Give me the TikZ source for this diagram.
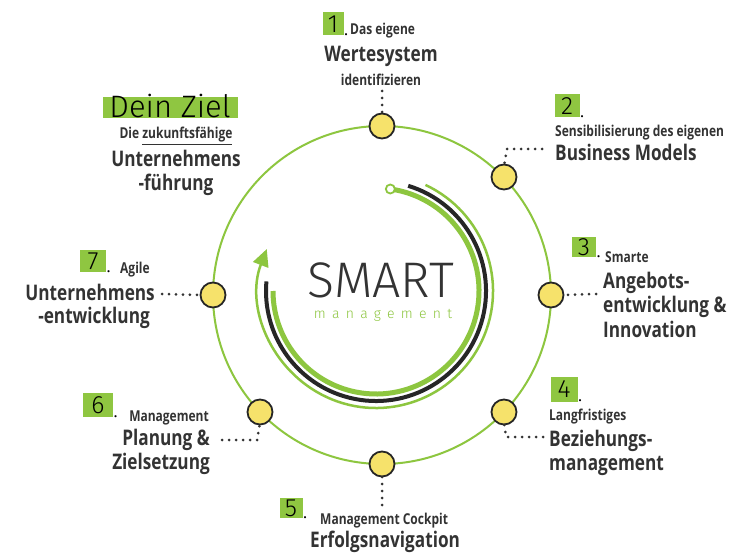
\documentclass[tikz,border=0pt]{standalone}
\usepackage{fontspec}
\setmainfont{Open Sans}[FakeStretch=0.8]
\newfontfamily\smartfont{Fira Sans Light}
\newfontfamily\mgmtfont{Fira Sans Light}[LetterSpace=45]
\newfontfamily\handfont{Fira Sans Light}
\usetikzlibrary{arrows.meta}
\definecolor{lgreen}{HTML}{8DC63F}
\definecolor{boxgreen}{HTML}{8FC641}
\definecolor{dotyellow}{HTML}{F6E26B}
\definecolor{txt}{HTML}{333333}
\begin{document}
\begin{tikzpicture}[x=1pt,y=-1pt,
  stepnode/.style={circle, draw=black!85, line width=1.8pt, fill=dotyellow, minimum size=25pt, inner sep=0pt},
  dotline/.style={line width=3pt, line cap=round, dash pattern=on 0pt off 7pt, draw=txt},
  small/.style={font=\fontsize{15}{17}\selectfont\bfseries, text=txt, inner sep=0pt},
  big/.style={font=\fontsize{21.5}{25}\selectfont\bfseries, text=txt, inner sep=0pt},
  numbox/.style={fill=boxgreen, inner sep=0pt, font=\handfont\fontsize{25}{25}\selectfont, text=black},
  numdot/.style={font=\handfont\fontsize{22}{22}\selectfont, text=black, inner sep=0pt, anchor=base west}]
\useasboundingbox[fill=white] (0,0) rectangle (738,553);

% main circle
\draw[lgreen, line width=2pt] (382,295) circle[radius=169];

% inner arcs
\coordinate (ac) at (376,291);
\draw[lgreen, line width=5pt] ([shift={(-82:103)}]ac) arc[start angle=-82, end angle=180, radius=103];
\draw[black!85, line width=4pt] ([shift={(-73:110)}]ac) arc[start angle=-73, end angle=185, radius=110];
\draw[lgreen, line width=2.5pt, -{Triangle[length=17pt,width=16pt]}] ([shift={(-65:117)}]ac) arc[start angle=-65, end angle=201, radius=117];
\node[circle, draw=lgreen, fill=white, line width=1.8pt, minimum size=9pt, inner sep=0pt] (start) at ([shift={(-82:103)}]ac) {};

% center text
\node[font=\smartfont\fontsize{50}{50}\selectfont, text=txt, inner sep=0pt, text depth=0pt, anchor=base] (smart) at (381,297) {SMART};
\node[font=\mgmtfont\fontsize{14}{14}\selectfont, text=lgreen, inner sep=0pt, text height=7pt, anchor=base] (mgmt) at (383,318) {management};

% step nodes
\node[stepnode] (n1) at (382,126) {};
\node[stepnode] (n2) at (504,177) {};
\node[stepnode] (n3) at (551,295) {};
\node[stepnode] (n4) at (504,412) {};
\node[stepnode] (n5) at (382,464) {};
\node[stepnode] (n6) at (260,412) {};
\node[stepnode] (n7) at (213,295) {};

% label 1
\node[numbox, minimum width=21pt, minimum height=23pt] (b1) at (333,24) {1};
\node[numdot] (p1) at (b1.south east) {.};
\node[small, anchor=base west] (t1a) at (350,35) {Das eigene};
\node[big, anchor=base] (t1b) at (381,62) {Wertesystem};
\node[small, anchor=base] (t1c) at (381,86) {identifizieren};
\coordinate (d1) at (382,91);
\draw[dotline] (d1) -- ([yshift=-3pt]n1.north);

% label 2
\node[numbox, minimum width=25pt, minimum height=23pt] (b2) at (567,106) {2};
\node[numdot] (p2) at (b2.south east) {.};
\node[small, anchor=base west] (t2a) at (555,137) {Sensibilisierung des eigenen};
\node[big, anchor=base west] (t2b) at (555,161) {Business Models};
\coordinate (d2) at (542,149);
\draw[dotline] (d2) -- (507,149) -- ([yshift=-3pt]n2.north);

% label 3
\node[numbox, minimum width=24pt, minimum height=20pt] (b3) at (584,247) {3};
\node[numdot] (p3) at (b3.south east) {.};
\node[small, anchor=base west] (t3a) at (605,262) {Smarte};
\node[big, anchor=base west] (t3b) at (603,288) {Angebots-};
\node[big, anchor=base west] (t3c) at (603,312) {entwicklung \&};
\node[big, anchor=base west] (t3d) at (603,337) {Innovation};
\coordinate (d3) at (596,294);
\draw[dotline] (d3) -- (n3.east);

% label 4
\node[numbox, minimum width=27pt, minimum height=25pt] (b4) at (564,389) {4};
\node[numdot] (p4) at (b4.south east) {.};
\node[small, anchor=base west] (t4a) at (549,420) {Langfristiges};
\node[big, anchor=base west] (t4b) at (549,446) {Beziehungs-};
\node[big, anchor=base west] (t4c) at (549,470) {management};
\coordinate (d4) at (543,437);
\draw[dotline] (d4) -- (506,437) -- ([yshift=3pt]n4.south);

% label 5
\node[numbox, minimum width=23pt, minimum height=20pt] (b5) at (291,508) {5};
\node[numdot] (p5) at (b5.south east) {.};
\node[small, anchor=base west] (t5a) at (320,524) {Management Cockpit};
\node[big, anchor=base west] (t5b) at (310,547) {Erfolgsnavigation};
\coordinate (d5) at (382,505);
\draw[dotline] (d5) -- ([yshift=3pt]n5.south);

% label 6
\node[numbox, minimum width=30pt, minimum height=24pt] (b6) at (98,405) {6};
\node[numdot] (p6) at (b6.south east) {.};
\node[small, anchor=base east] (t6a) at (209,421) {Management};
\node[big, anchor=base east] (t6b) at (210,445) {Planung \&};
\node[big, anchor=base east] (t6c) at (210,469) {Zielsetzung};
\coordinate (d6) at (222,440);
\draw[dotline] (d6) -- (257,440) -- ([yshift=3pt]n6.south);

% label 7
\node[numbox, minimum width=26pt, minimum height=22pt] (b7) at (93,261) {7};
\node[numdot] (p7) at (b7.south east) {.};
\node[small, anchor=base west] (t7a) at (120,273) {Agile};
\node[big, anchor=base east] (t7b) at (155,300) {Unternehmens};
\node[big, anchor=base east] (t7c) at (150,323) {-entwicklung};
\coordinate (d7) at (162,294);
\draw[dotline] (d7) -- (n7.west);

% goal
\node[fill=boxgreen, minimum width=135pt, minimum height=21pt, inner sep=0pt] (goalbox) at (170,108) {};
\node[font=\handfont\fontsize{31}{31}\selectfont, text=black, inner sep=0pt, anchor=base] (goal) at (170,118) {Dein Ziel};
\node[small, anchor=base] (g1) at (176,139) {Die \underline{zukunftsfähige}};
\node[big, anchor=base] (g2) at (176,167) {Unternehmens};
\node[big, anchor=base] (g3) at (176,191) {-führung};
\end{tikzpicture}
\end{document}
